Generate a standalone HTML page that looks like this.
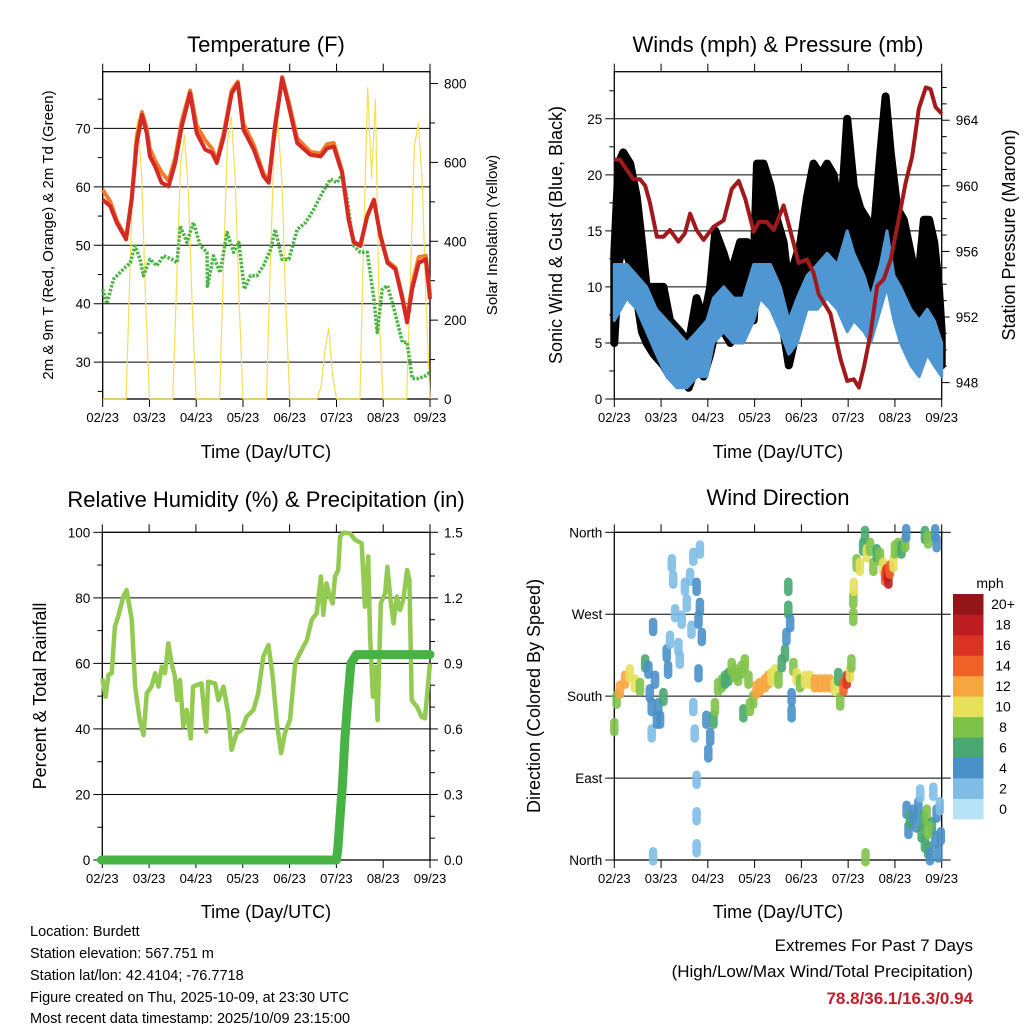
<!DOCTYPE html>
<html><head><meta charset="utf-8">
<style>
body{margin:0;background:#fff;}
svg text{font-family:"Liberation Sans",sans-serif;fill:#000;}
</style></head>
<body>
<svg id="c" width="1024" height="1024" viewBox="0 0 1024 1024" xmlns="http://www.w3.org/2000/svg">
<rect width="1024" height="1024" fill="#fff"/>
<text x="266" y="52" font-size="22" text-anchor="middle">Temperature (F)</text>
<text x="778" y="52" font-size="22" text-anchor="middle">Winds (mph) &amp; Pressure (mb)</text>
<text x="266" y="507" font-size="22" text-anchor="middle">Relative Humidity (%) &amp; Precipitation (in)</text>
<text x="778" y="505" font-size="22" text-anchor="middle">Wind Direction</text>
<text x="266" y="458" font-size="18" text-anchor="middle">Time (Day/UTC)</text>
<text x="778" y="458" font-size="18" text-anchor="middle">Time (Day/UTC)</text>
<text x="266" y="918" font-size="18" text-anchor="middle">Time (Day/UTC)</text>
<text x="778" y="918" font-size="18" text-anchor="middle">Time (Day/UTC)</text>
<text transform="translate(53,235) rotate(-90)" font-size="15" text-anchor="middle">2m &amp; 9m T (Red, Orange) &amp; 2m Td (Green)</text>
<text transform="translate(497,235) rotate(-90)" font-size="15" text-anchor="middle">Solar Insolation (Yellow)</text>
<text transform="translate(562,235) rotate(-90)" font-size="18" text-anchor="middle">Sonic Wind &amp; Gust (Blue, Black)</text>
<text transform="translate(1015,235) rotate(-90)" font-size="18" text-anchor="middle">Station Pressure (Maroon)</text>
<text transform="translate(46,696) rotate(-90)" font-size="18" text-anchor="middle">Percent &amp; Total Rainfall</text>
<text transform="translate(540,696) rotate(-90)" font-size="18" text-anchor="middle">Direction (Colored By Speed)</text>
<g font-size="14.5">
<text x="30" y="936">Location: Burdett</text>
<text x="30" y="958">Station elevation: 567.751 m</text>
<text x="30" y="980">Station lat/lon: 42.4104; -76.7718</text>
<text x="30" y="1002">Figure created on Thu, 2025-10-09, at 23:30 UTC</text>
<text x="30" y="1023">Most recent data timestamp: 2025/10/09 23:15:00</text>
</g>
<text x="973" y="951" font-size="17" text-anchor="end">Extremes For Past 7 Days</text>
<text x="973" y="977" font-size="17" text-anchor="end">(High/Low/Max Wind/Total Precipitation)</text>
<text x="973" y="1004" font-size="17" font-weight="bold" text-anchor="end" style="fill:#c0202a">78.8/36.1/16.3/0.94</text>
<text x="990" y="588" font-size="14" text-anchor="middle">mph</text>
</svg>
<script>
// ---- data ----
const dayLabels=["02/23","03/23","04/23","05/23","06/23","07/23","08/23","09/23"];
const tempT=[0,0.16,0.3,0.5,0.62,0.73,0.84,0.94,1.01,1.12,1.26,1.41,1.55,1.69,1.87,2.01,2.19,2.34,2.44,2.59,2.76,2.89,3.01,3.23,3.44,3.55,3.69,3.84,3.98,4.16,4.44,4.66,4.8,4.94,5.12,5.26,5.37,5.51,5.66,5.8,5.94,6.09,6.26,6.41,6.51,6.62,6.76,6.91,7.0];
const temp2m=[57.8,56.7,53.9,51,57.8,67.5,72.3,69.2,65.2,63.5,60.7,60.1,64.1,70.3,76,69.2,66.4,65.8,64.1,68.6,76,77.7,69.8,66.4,61.8,60.7,70.3,78.6,73.8,67.5,65.5,65.2,66.6,66.9,62.4,54.4,50.5,49.9,55,57.8,51.6,47,45.9,40.8,36.8,42.5,47,47.6,40.8];
const temp9m=[59.5,57.5,54.3,51.2,58.2,68.5,72.8,70,66.5,64.5,62.5,61,65,71.2,76.5,70.5,68,66.5,64.5,69.3,76.5,78,70.8,67.2,62.3,61,71,78.8,74.5,68.3,66,65.7,67.3,67.5,62.7,54.6,50.6,50,55.2,57.6,51.8,47.3,46.2,41.2,37.5,43.3,48,48.2,41.5];
const dewT=[0,0.09,0.23,0.44,0.59,0.69,0.8,0.87,1.01,1.16,1.3,1.48,1.59,1.66,1.8,1.94,2.09,2.23,2.24,2.37,2.51,2.66,2.8,2.91,3.03,3.16,3.3,3.44,3.59,3.69,3.84,3.98,4.16,4.34,4.51,4.73,4.87,5.01,5.12,5.23,5.37,5.51,5.66,5.8,5.87,5.98,6.09,6.23,6.41,6.51,6.62,6.76,6.91,7.0];
const dewV=[42.5,40,44.2,45.9,47,49.9,47.6,44.8,47.6,46.5,48.2,47.6,47,53.3,50.5,53.9,49.9,48.8,43,48.2,45.3,52.2,48.8,50.5,42.5,44.8,44.8,46.5,49.3,52.7,47.6,47.6,52.7,53.9,56.1,59.5,61.3,60.7,62.1,57.8,49.9,48.8,48.8,40.8,35.1,42.5,43.1,39.1,33.4,33.4,27.2,27.2,27.7,28.3];
const solarV=[
0,0,0,0,0,0,0,330,640,710,560,250,
0,0,0,0,0,0,0,300,600,670,520,230,
0,0,0,0,0,0,0,340,650,715,560,250,
0,0,0,0,0,0,0,330,640,700,550,240,
0,0,0,0,0,0,0,0,30,120,180,60,
0,0,0,0,0,0,0,420,790,560,760,200,
0,0,0,0,0,0,0,320,640,700,550,240,0];
const sonicT=[0,0.27,0.48,0.69,0.9,1.12,1.34,1.55,1.77,1.98,2.12,2.34,2.55,2.76,2.98,3.12,3.34,3.55,3.73,3.91,4.12,4.34,4.55,4.77,4.98,5.12,5.34,5.48,5.69,5.83,5.98,6.12,6.34,6.52,6.69,6.84,7.0];
const sonicLo=[7,9,8,6,4,2,1,1,2,2,5,6,5,5,7,9,8,6,4,5,8,8,9,8,6,7,6,5,8,10,7,5,3,2,4,3,2];
const sonicHi=[12,12,11,10,8,7,6,5,6,7,9,10,9,9,12,12,12,10,7,9,11,12,13,12,15,13,11,9,12,15,11,10,8,7,8,7,5];
const gustT=[0,0.09,0.19,0.34,0.48,0.59,0.69,0.84,1.05,1.19,1.41,1.59,1.76,1.91,2.05,2.16,2.34,2.48,2.69,2.84,2.98,3.05,3.19,3.34,3.48,3.62,3.73,3.84,3.98,4.12,4.26,4.41,4.55,4.69,4.84,4.98,5.12,5.26,5.41,5.55,5.69,5.8,5.91,6.05,6.19,6.34,6.48,6.62,6.73,6.84,6.94,7.0];
const gustLo=[5,12,14,12,9,6,5,4,3,2,2,1,3,2,4,6,6,5,7,7,7,12,11,10,8,6,3,5,8,10,13,11,12,11,9,10,9,11,9,8,10,14,12,9,9,5,3,8,9,7,4,3];
const gustHi=[13,21,22,21,18,14,10,10,10,7,6,5,9,7,10,15,13,11,14,14,12,21,21,19,16,14,10,12,14,18,21,20,21,20,16,25,19,17,16,15,22,27,22,17,16,13,10,16,16,14,10,6];
const presT=[0,0.12,0.26,0.41,0.55,0.66,0.76,0.91,1.05,1.19,1.37,1.51,1.62,1.76,1.91,2.12,2.34,2.51,2.66,2.8,2.98,3.09,3.26,3.41,3.62,3.76,3.94,4.12,4.26,4.37,4.62,4.84,4.98,5.12,5.23,5.34,5.48,5.62,5.76,5.91,6.09,6.23,6.37,6.51,6.66,6.76,6.87,7.0];
const presV=[961.6,961.6,961,960.4,960.4,960,959,956.9,956.9,957.3,956.6,957.1,958.3,957.3,956.7,957.5,957.9,959.8,960.3,959.2,957.2,957.8,957.8,957.3,958.8,957.3,955.3,955.5,954.7,953.4,952.2,949.4,948.1,948.2,947.7,949,951,953.9,954.3,955.5,958.1,960.2,961.8,964.7,966,965.9,964.8,964.4];
const rhT=[0,0.07,0.13,0.2,0.27,0.34,0.45,0.52,0.63,0.7,0.8,0.88,0.95,1.05,1.13,1.2,1.27,1.34,1.41,1.48,1.55,1.6,1.66,1.73,1.8,1.89,1.94,2.02,2.12,2.22,2.26,2.41,2.48,2.59,2.69,2.76,2.87,2.98,3.08,3.23,3.33,3.44,3.55,3.64,3.73,3.82,3.9,4.01,4.12,4.22,4.37,4.47,4.58,4.67,4.72,4.79,4.86,4.92,4.97,5.04,5.08,5.15,5.29,5.4,5.54,5.61,5.68,5.72,5.78,5.83,5.88,5.95,6.04,6.09,6.15,6.22,6.29,6.36,6.43,6.51,6.56,6.61,6.72,6.82,6.89,7.0];
const rhV=[55.4,49.8,56.5,57,71.2,74.3,80.4,82.4,73.2,52.9,42.7,38.1,50.9,52.9,57,52.9,59,57,66.1,60,56,48.8,54.9,40.7,45.8,37.1,52.9,53.4,53.9,39.2,54.4,53.9,48.8,52.9,44.8,33.6,38.7,39.7,43.7,45.8,50.9,62.1,65.6,56,41.7,32.6,38.7,42.7,60,63.1,67.1,73.2,75.3,86.5,74.8,84.4,80.4,78.3,86.5,88.5,98.7,99.9,99.7,97.7,96.6,77.3,92.6,68.2,49.8,59,42.7,78.3,81.4,89.5,80.4,72.2,80.4,76.3,79.4,88.5,85.5,48.8,46.8,43.7,43.2,60];
const rainT=[-0.02,5.0,5.03,5.08,5.13,5.18,5.25,5.31,5.43,7.0];
const rainV=[0,0,0.05,0.2,0.35,0.55,0.75,0.9,0.94,0.94];
const dirT=[0,0.05,0.12,0.23,0.33,0.44,0.55,0.66,0.73,0.76,0.8,0.83,0.87,0.94,0.98,1.05,1.12,1.15,1.19,1.23,1.26,1.3,1.37,1.4,1.44,1.51,1.55,1.62,1.65,1.69,1.76,1.8,1.83,1.87,1.83,1.69,1.72,1.76,1.76,1.76,1.8,0.83,0.8,0.91,1.97,2.01,2.05,2.12,2.15,2.22,2.3,2.37,2.44,2.51,2.58,2.65,2.72,2.79,2.87,2.76,2.9,2.97,3.04,3.11,3.22,3.29,3.36,3.44,3.51,3.58,3.65,3.68,3.72,3.72,3.76,3.79,3.79,3.83,3.9,3.97,4.08,4.18,4.29,4.4,4.5,4.61,4.72,4.79,4.83,4.9,4.97,5.04,5.07,5.11,5.11,5.12,5.18,5.25,5.32,5.36,5.4,5.47,5.54,5.61,5.68,5.75,5.79,5.82,5.86,5.89,5.97,6.0,6.07,6.14,6.22,6.24,6.64,6.71,6.86,6.89,5.37,6.25,6.29,6.32,6.39,6.46,6.5,6.54,6.57,6.61,6.64,6.68,6.71,6.75,6.79,6.82,6.86,6.89,6.93,6.96,6.98,6.71];
const dirV=[146,176,187,198,205,194,190,216,209,183,168,256,198,168,154,179,227,209,242,326,308,271,234,220,264,300,282,311,253,333,300,264,341,245,278,168,139,88,48,13,205,4,139,154,154,117,135,154,168,190,194,198,201,212,205,201,209,216,198,161,168,176,187,190,194,198,201,205,198,216,227,245,275,300,260,179,161,212,201,194,198,198,194,194,194,194,190,201,174,190,198,205,216,267,286,300,326,322,344,357,337,344,322,337,333,322,311,315,308,319,326,341,344,341,348,359,357,352,359,348,3,55,33,44,51,40,59,73,29,44,18,51,11,4,37,75,22,51,7,59,26,33];
const dirS=[8,8,12,12,10,10,8,6,4,4,4,4,4,4,4,6,4,4,2,2,2,2,2,2,2,2,2,2,2,2,4,4,2,4,4,2,2,2,2,2,4,2,2,4,4,4,4,6,8,8,8,6,6,8,8,8,8,8,8,6,8,8,12,12,12,12,10,10,8,6,6,4,6,6,4,4,4,8,10,8,10,10,12,12,12,12,10,6,8,14,16,10,8,8,8,10,8,10,6,6,10,8,8,6,8,10,14,16,18,14,10,8,8,6,8,4,6,8,4,4,8,4,4,6,4,4,4,2,6,6,6,8,6,4,6,2,4,4,4,2,4,8];
const speedColors=["#b8e2f8","#7fbde6","#4a90c8","#48a870","#7fc24a","#e6e05a","#f6a540","#f06128","#dc3226","#bc1c22","#921518"];
const speedLabels=["0","2","4","6","8","10","12","14","16","18","20+"];

// ---- helpers ----
const NS="http://www.w3.org/2000/svg";
const svg=document.getElementById('c');
function mk(tag,attrs,parent){const e=document.createElementNS(NS,tag);for(const k in attrs)e.setAttribute(k,attrs[k]);(parent||svg).appendChild(e);return e;}
function lin(d0,d1,r0,r1){return v=>r0+(v-d0)*(r1-r0)/(d1-d0);}
function pathD(xs,ys,fx,fy){return xs.map((t,i)=>(i?'L':'M')+fx(t).toFixed(1)+','+fy(ys[i]).toFixed(1)).join('');}
function bandD(xs,lo,hi,fx,fy){let d=xs.map((t,i)=>(i?'L':'M')+fx(t).toFixed(1)+','+fy(hi[i]).toFixed(1)).join('');for(let i=xs.length-1;i>=0;i--)d+='L'+fx(xs[i]).toFixed(1)+','+fy(lo[i]).toFixed(1);return d+'Z';}

function frame(P,name){
  const g=mk('g',{});
  
  
  dayLabels.forEach((lab,i)=>{
    const x=P.fx(i);
    mk('line',{x1:x,x2:x,y1:P.yb,y2:P.yb+8,stroke:'#000','stroke-width':1},g);
    mk('line',{x1:x,x2:x,y1:P.yt,y2:P.yt-8,stroke:'#000','stroke-width':1},g);
    const t=mk('text',{x:x,y:P.yb+23,'font-size':13,'text-anchor':'middle'},g);
    t.textContent=lab;
    
    
  });
  mk('rect',{x:P.x0,y:P.yt,width:P.x1-P.x0,height:P.yb-P.yt,fill:'none',stroke:'#000','stroke-width':1.3},g);
  return g;
}
function leftAxis(P,vals,labels,fy,grid,minor){
  const g=mk('g',{});
  
  
  vals.forEach((v,i)=>{
    const y=fy(v);
    mk('line',{x1:P.x0-9,x2:grid&&y>P.yt+1&&y<P.yb-1?P.x1:P.x0,y1:y,y2:y,stroke:'#000','stroke-width':1},g);
    const t=mk('text',{x:P.x0-12,y:y+5,'font-size':13.5,'text-anchor':'end'},g);
    t.textContent=labels[i];
  });
  (minor||[]).forEach(v=>{const y=fy(v);mk('line',{x1:P.x0-5,x2:P.x0,y1:y,y2:y,stroke:'#000','stroke-width':1},g);});
}
function rightAxis(P,vals,labels,fy,minor){
  const g=mk('g',{});
  
  
  vals.forEach((v,i)=>{
    const y=fy(v);
    mk('line',{x1:P.x1,x2:P.x1+8,y1:y,y2:y,stroke:'#000','stroke-width':1},g);
    const t=mk('text',{x:P.x1+14,y:y+5,'font-size':13.5,'text-anchor':'start'},g);
    t.textContent=labels[i];
  });
  (minor||[]).forEach(v=>{const y=fy(v);mk('line',{x1:P.x1,x2:P.x1+5,y1:y,y2:y,stroke:'#000','stroke-width':1},g);});
}

// ---- panel 1: temperature ----
const P1={x0:102.7,x1:430,yt:71.7,yb:399};P1.fx=lin(0,7,P1.x0,P1.x1);
const fT=lin(23.7,79.7,399,71.7), fS=lin(0,830,399,71.7);
frame(P1,'temperature');
leftAxis(P1,[30,40,50,60,70],["30","40","50","60","70"],fT,true,[25,35,45,55,65,75]);
rightAxis(P1,[0,200,400,600,800],["0","200","400","600","800"],fS,[100,300,500,700]);
const solarT=solarV.map((v,i)=>i/12);
let e=mk('path',{d:pathD(solarT,solarV,P1.fx,fS),fill:'none',stroke:'#f7de55','stroke-width':1.2,'stroke-linejoin':'round'});


e=mk('path',{d:pathD(dewT,dewV,P1.fx,fT),fill:'none',stroke:'#4bb543','stroke-width':3.5,'stroke-dasharray':'2.5 1.5','stroke-linejoin':'round'});


e=mk('path',{d:pathD(tempT,temp9m,P1.fx,fT),fill:'none',stroke:'#f47a2a','stroke-width':4,'stroke-linejoin':'round'});


e=mk('path',{d:pathD(tempT,temp2m,P1.fx,fT),fill:'none',stroke:'#d42a26','stroke-width':4,'stroke-linejoin':'round'});



// ---- panel 2: winds ----
const P2={x0:614.3,x1:941.7,yt:71.7,yb:399};P2.fx=lin(0,7,P2.x0,P2.x1);
const fW=lin(0,29.2,399,71.7), fP=lin(947,966.96,399,71.7);
frame(P2,'winds');
leftAxis(P2,[0,5,10,15,20,25],["0","5","10","15","20","25"],fW,true,[2.5,7.5,12.5,17.5,22.5,27.5]);
rightAxis(P2,[948,952,956,960,964],["948","952","956","960","964"],fP,[949,950,951,953,954,955,957,958,959,961,962,963,965,966]);
e=mk('path',{d:bandD(gustT,gustLo,gustHi,P2.fx,fW),fill:'#000',stroke:'#000','stroke-width':8,'stroke-linejoin':'round'});


e=mk('path',{d:bandD(sonicT,sonicLo,sonicHi,P2.fx,fW),fill:'#4f97d2',stroke:'#4f97d2','stroke-width':3,'stroke-linejoin':'round'});


e=mk('path',{d:pathD(presT,presV,P2.fx,fP),fill:'none',stroke:'#a01a1c','stroke-width':4,'stroke-linejoin':'round'});



// ---- panel 3: humidity ----
const P3={x0:102.3,x1:430,yt:532.3,yb:860};P3.fx=lin(0,7,P3.x0,P3.x1);
const fR=lin(0,100,860,532.3), fPr=lin(0,1.5,860,532.3);
frame(P3,'humidity');
leftAxis(P3,[0,20,40,60,80,100],["0","20","40","60","80","100"],fR,true,[10,30,50,70,90]);
rightAxis(P3,[0,0.3,0.6,0.9,1.2,1.5],["0.0","0.3","0.6","0.9","1.2","1.5"],fPr,[0.1,0.2,0.4,0.5,0.7,0.8,1.0,1.1,1.3,1.4]);
e=mk('path',{d:pathD(rhT,rhV,P3.fx,fR),fill:'none',stroke:'#93cb52','stroke-width':4.5,'stroke-linejoin':'round'});


e=mk('path',{d:pathD(rainT,rainV,P3.fx,fPr),fill:'none',stroke:'#48b345','stroke-width':9,'stroke-linejoin':'round','stroke-linecap':'round'});



// ---- panel 4: direction ----
const P4={x0:614.3,x1:941.7,yt:532.3,yb:860};P4.fx=lin(0,7,P4.x0,P4.x1);
const fD=lin(0,360,860,532.3);
frame(P4,'direction');
leftAxis(P4,[0,90,180,270,360],["North","East","South","West","North"],fD,true);
[0,90,180,270,360].forEach(v=>{mk('line',{x1:P4.x1,x2:P4.x1+9,y1:fD(v),y2:fD(v),stroke:'#000'});});
dirT.forEach((t,i)=>{
  const cx=P4.fx(t), cy=fD(dirV[i]);
  const col=speedColors[Math.min(10,Math.floor(dirS[i]/2))];
  const c=mk('line',{x1:cx.toFixed(1),x2:cx.toFixed(1),y1:(cy-5).toFixed(1),y2:(cy+5).toFixed(1),stroke:col,'stroke-width':8.5,'stroke-linecap':'round','stroke-opacity':0.9});
  
  
});
// colorbar
const cb=mk('g',{});


const boxH=(819-594)/11;
speedColors.forEach((col,i)=>{
  const y=819-(i+1)*boxH;
  const r=mk('rect',{x:953,y:y.toFixed(1),width:30.5,height:(boxH+0.3).toFixed(1),fill:col},cb);
  
  
  const t=mk('text',{x:1003,y:(y+boxH/2+5).toFixed(1),'font-size':14,'text-anchor':'middle'},cb);
  t.textContent=speedLabels[i];
});
</script>
</body></html>
